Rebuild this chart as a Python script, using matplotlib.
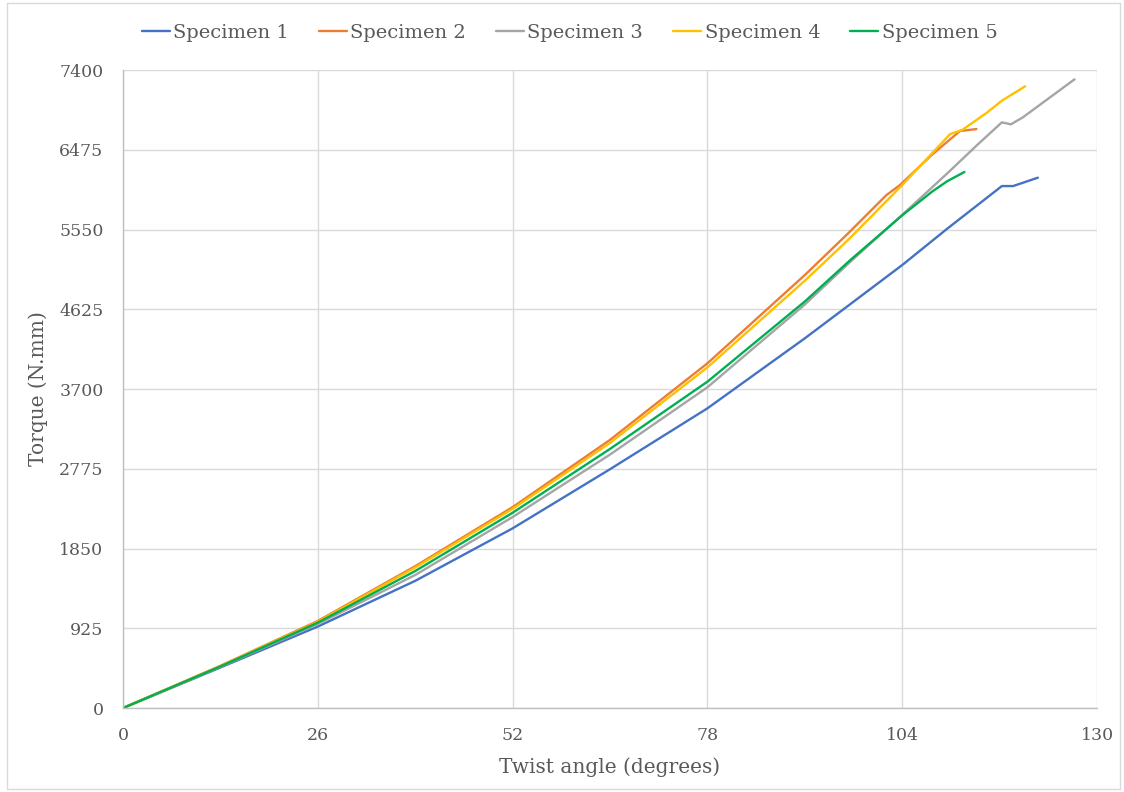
import matplotlib
matplotlib.use("Agg")
import matplotlib.pyplot as plt

plt.rcParams['font.family'] = ['DejaVu Serif']

# Twist angle (degrees) and torque (N.mm) for each specimen
angle_1 = [0, 13, 26, 39, 52, 65, 78, 91, 97, 104, 110, 117.3, 118.8, 122.1]
torque_1 = [0, 470, 945, 1475, 2084, 2770, 3476, 4288, 4680, 5138, 5559, 6054, 6054, 6151]

angle_2 = [0, 13, 26, 39, 52, 65, 78, 91, 97, 101.9, 103.7, 108, 111.7, 113.9]
torque_2 = [0, 490, 1010, 1645, 2330, 3110, 3998, 5022, 5524, 5950, 6066, 6420, 6692, 6715]

angle_3 = [0, 13, 26, 39, 52, 65, 78, 91, 97, 104, 110, 114, 117.3, 118.5, 120.1, 127]
torque_3 = [0, 478, 975, 1543, 2215, 2940, 3720, 4680, 5170, 5720, 6200, 6530, 6793, 6770, 6851, 7292]

angle_4 = [0, 13, 26, 39, 52, 65, 78, 91, 97, 104, 110.4, 112.0, 115.3, 117.3, 120.4]
torque_4 = [0, 485, 1000, 1630, 2310, 3075, 3951, 4956, 5448, 6066, 6657, 6704, 6905, 7044, 7211]

angle_5 = [0, 13, 26, 39, 52, 65, 78, 91, 97, 104, 108, 110, 112.3]
torque_5 = [0, 482, 990, 1589, 2265, 3005, 3785, 4715, 5190, 5715, 5990, 6110, 6217]

series_names = ["Specimen 1", "Specimen 2", "Specimen 3", "Specimen 4", "Specimen 5"]
series_colors = ["#4472C4", "#ED7D31", "#A5A5A5", "#FFC000", "#00B050"]

x_ticks = [0, 26, 52, 78, 104, 130]
y_ticks = [0, 925, 1850, 2775, 3700, 4625, 5550, 6475, 7400]

fig = plt.figure(figsize=(11.24, 7.92), dpi=100)
fig.patch.set_facecolor("white")
ax = fig.add_axes([0.1094, 0.106, 0.8666, 0.8056])

series = [(angle_1, torque_1), (angle_2, torque_2), (angle_3, torque_3),
          (angle_4, torque_4), (angle_5, torque_5)]
for (xs, ys), name, color in zip(series, series_names, series_colors):
    ax.plot(xs, ys, color=color, lw=1.7, label=name,
            solid_capstyle="round", solid_joinstyle="round")

ax.set_xlim(0, 130)
ax.set_ylim(0, 7400)
ax.set_xticks(x_ticks)
ax.set_yticks(y_ticks)
ax.grid(True, color="#D9D9D9", lw=1.0)
ax.set_axisbelow(True)

for side in ["top", "right"]:
    ax.spines[side].set_visible(False)
for side in ["left", "bottom"]:
    ax.spines[side].set_color("#BFBFBF")
    ax.spines[side].set_linewidth(1.0)

ax.tick_params(axis="both", length=0, labelsize=12.5, labelcolor="#595959", pad=14)
ax.set_xlabel("Twist angle (degrees)", fontsize=14.5, color="#595959", labelpad=9)
ax.set_ylabel("Torque (N.mm)", fontsize=14.5, color="#595959", labelpad=8)

leg = fig.legend(loc="center", bbox_to_anchor=(0.507, 0.958), ncol=5, frameon=False,
                 fontsize=14, handlelength=1.4, handletextpad=0.2, columnspacing=1.55)
for t in leg.get_texts():
    t.set_color("#595959")

# Chart outline
fig.add_artist(plt.Rectangle((0.006, 0.004), 0.99, 0.992, transform=fig.transFigure,
                             fill=False, edgecolor="#D9D9D9", lw=1.0))

fig.savefig("out.png", dpi=100)
